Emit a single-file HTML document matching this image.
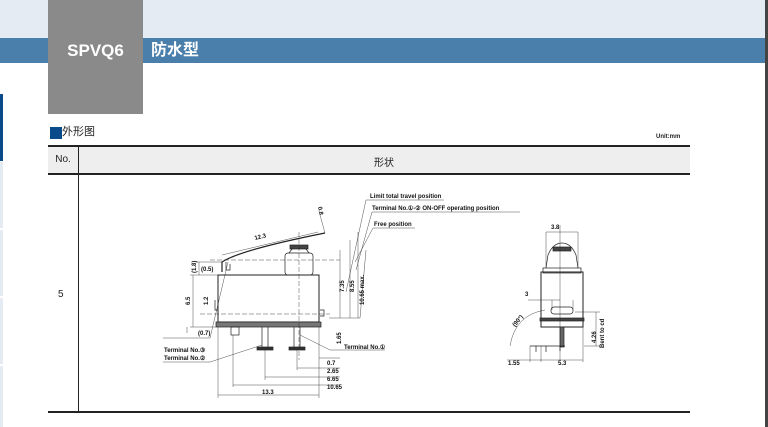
<!DOCTYPE html>
<html><head><meta charset="utf-8"><style>
body{margin:0;width:768px;height:427px;overflow:hidden;background:#fff;position:relative;font-family:"Liberation Sans","Noto Sans CJK SC",sans-serif}
div{position:absolute}
</style></head><body>
<div style="left:0;top:0;width:768px;height:38px;background:#e4ebf3"></div>
<div style="left:0;top:38px;width:768px;height:25px;background:#4a7fab"></div>
<div style="left:765px;top:0;width:3px;height:427px;background:#444"></div>
<div style="left:48px;top:0;width:95px;height:114px;background:#8a8a8a"></div>
<div style="left:48px;top:38px;width:95px;height:25px;color:#fff;font-weight:bold;font-size:17px;line-height:25px;text-align:center">SPVQ6</div>
<div style="left:151px;top:38px;height:25px;color:#fff;font-weight:bold;font-size:16px;line-height:25px">防水型</div>
<div style="left:0;top:94px;width:3px;height:67px;background:#0a4a8a"></div>
<div style="left:0;top:162px;width:3px;height:66px;background:#e4ebf3"></div>
<div style="left:0;top:230px;width:3px;height:66px;background:#e4ebf3"></div>
<div style="left:0;top:298px;width:3px;height:66px;background:#e4ebf3"></div>
<div style="left:0;top:366px;width:3px;height:61px;background:#e4ebf3"></div>
<div style="left:50px;top:127px;width:12px;height:12px;background:#0a4a8a"></div>
<div style="left:62px;top:124px;font-size:11px;line-height:16px;color:#222">外形图</div>
<div style="left:656px;top:134px;font-size:6px;color:#222;font-weight:bold">Unit:mm</div>
<div style="left:48px;top:145px;width:642px;height:30px;background:#eee;border-top:2px solid #222;border-bottom:2px solid #222;box-sizing:border-box"></div>
<div style="left:78px;top:145px;width:1px;height:268px;background:#222"></div>
<div style="left:48px;top:411px;width:642px;height:2px;background:#222"></div>
<div style="left:48px;top:154px;width:30px;font-size:10px;text-align:center;color:#222">No.</div>
<div style="left:374px;top:154px;font-size:10px;color:#222">形状</div>
<div style="left:58px;top:289px;font-size:10px;color:#222">5</div>
<svg style="position:absolute;left:0;top:0" width="768" height="427" font-family="Liberation Sans" font-size="6" fill="none" stroke="#222" stroke-width="0.7">
<!-- left view -->
<rect x="218" y="275" width="101" height="47" stroke-width="1"/>
<rect x="216" y="322" width="105" height="5" fill="#777"/>
<rect x="285" y="253" width="28" height="22" rx="3"/>
<path d="M289 253 Q299 238 309 253" />
<rect x="290" y="245" width="18" height="4" fill="#444"/>
<path d="M222 272 L222 262 Q240 250 325 233" stroke-width="1.2"/>
<path d="M226 262 L226 270 L230 270 L230 264"/>
<rect x="231" y="327" width="8" height="8"/>
<path d="M262 327 V348 M268 327 V348 M294 327 V348 M300 327 V348"/>
<rect x="257" y="347" width="16" height="3" fill="#333"/>
<rect x="289" y="347" width="16" height="3" fill="#333"/>
<path d="M215 300 V310 H218 M320 310 h4 v6 h-4" />
<g stroke-width="0.4" stroke-dasharray="5,2">
<path d="M200 314 H330 M299 232 V360 M210 260 H340"/>
</g>
<g stroke-width="0.4">
<path d="M193 275 V327 M190 275 H218 M190 327 H216 M199 262 V275 M196 262 H222 M187 327 V333 M218 327 V398 M319 327 V398 M218 395 H319 M233 335 V387 M265 350 V380 M297 350 V370 M233 385 H340 M265 377 H340 M297 368 H340 M319 358 H340"/>
<path d="M329 318 H360 L366 250 M340 318 V250 M350 318 V240 M358 318 V232"/>
<path d="M346 292 L366 200 H444 M356 270 L372 212 H520 M355 262 L373 228 H415"/>
<path d="M228 262 L210 338 H163 M262 345 L210 362 H163 M300 335 L330 350 H385"/>
<path d="M222 255 L318 232 M320 215 L325 233"/>
</g>
<g fill="#111" stroke="none" font-weight="bold">
<text x="370" y="198">Limit total travel position</text>
<text x="372" y="210">Terminal No.①-② ON-OFF operating position</text>
<text x="374" y="226">Free position</text>
<text x="164" y="352">Terminal No.③</text>
<text x="164" y="360">Terminal No.②</text>
<text x="344" y="349">Terminal No.①</text>
<text x="201" y="271">(0.5)</text>
<text x="198" y="335">(0.7)</text>
<text x="327" y="365">0.7</text>
<text x="327" y="373">2.65</text>
<text x="327" y="381">6.65</text>
<text x="327" y="389">10.65</text>
<text x="262" y="394">13.3</text>
<text transform="translate(255,240) rotate(-14)">12.3</text>
<text transform="translate(190,305) rotate(-90)">6.5</text>
<text transform="translate(196,273) rotate(-90)">(1.8)</text>
<text transform="translate(208,305) rotate(-90)">1.2</text>
<text transform="translate(344,292) rotate(-90)">7.35</text>
<text transform="translate(354,292) rotate(-90)">8.55</text>
<text transform="translate(364,305) rotate(-90)">10.65 max.</text>
<text transform="translate(341,344) rotate(-90)">1.65</text>
<text transform="translate(318,207) rotate(80)">0.8</text>
<text x="551" y="229">3.8</text>
<text x="525" y="296">3</text>
<text x="508" y="365">1.55</text>
<text x="558" y="365">5.3</text>
<text transform="translate(596,343) rotate(-90)">4.26</text>
<text transform="translate(604,348) rotate(-90)">Bent to cd</text>
<text transform="translate(515,327) rotate(-50)">(90°)</text>
</g>
<!-- right view -->
<rect x="541" y="272" width="42" height="55" stroke-width="1"/>
<rect x="543" y="268" width="38" height="5"/>
<path d="M546 268 L548 255 Q553 243 562 243 Q571 243 576 255 L578 268"/>
<rect x="553" y="247" width="18" height="4" fill="#444"/>
<rect x="551" y="307" width="22" height="7" rx="3"/>
<rect x="540" y="318" width="44" height="3" fill="#444"/>
<rect x="560" y="327" width="4" height="20" fill="#666"/>
<path d="M530 346 H565 M536 346 V352 M546 346 V352 M560 346 v5" />
<g stroke-width="0.4">
<path d="M546 232 H578 M546 232 V268 M578 232 V268 M552 300 V310 M573 300 V310 M528 300 H560 M560 225 V360 M575 312 H600 M584 346 H600 M596 312 V346 M507 360 H583 M530 346 V362 M541 346 V362 M583 327 V362"/>
<path d="M510 346 Q515 315 545 310"/>
</g>
</svg>
</body></html>
